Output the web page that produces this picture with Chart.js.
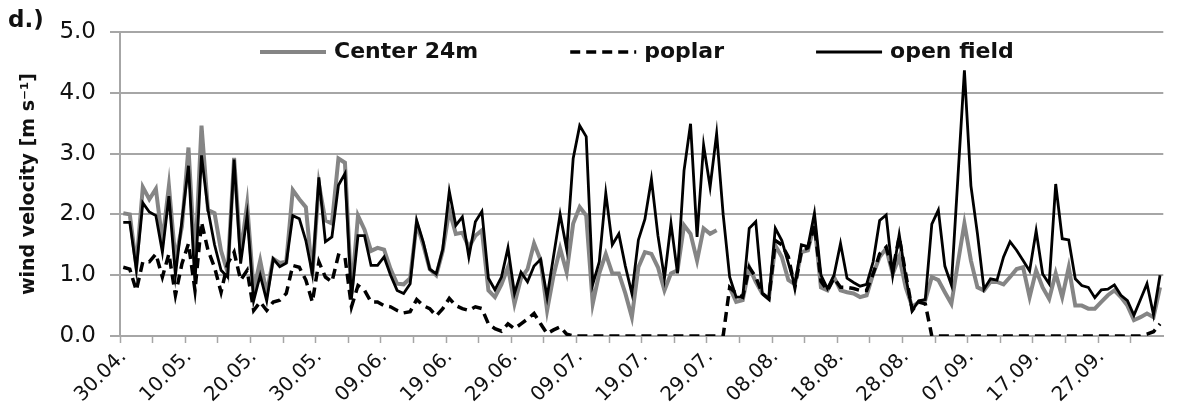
<!DOCTYPE html>
<html>
<head>
<meta charset="utf-8">
<script src="https://cdn.jsdelivr.net/npm/chart.js@4.4.1/dist/chart.umd.min.js"></script>
<style>
  html, body { margin: 0; padding: 0; background: #fff; }
  #wrap { position: relative; width: 1179px; height: 414px; }
  #panel { position: absolute; left: 8px; top: 6px; font: bold 23px "DejaVu Sans", sans-serif; color: #111; }
</style>
</head>
<body>
<div id="wrap">
  <canvas id="chart" width="1179" height="414"></canvas>
  <div id="panel">d.)</div>
</div>
<script>
// labels shown under the x axis, one every 10 days
var tickLabels = ['30.04.', '10.05.', '20.05.', '30.05.', '09.06.', '19.06.', '29.06.', '09.07.',
                  '19.07.', '29.07.', '08.08.', '18.08.', '28.08.', '07.09.', '17.09.', '27.09.'];

var seriesNames = ['Center 24m', 'poplar', 'open field'];

// daily mean wind velocity, 30.04. - 06.10. (m/s)
var center24 = [
  2.02, 2.0, 1.15, 2.45, 2.25, 2.42, 1.55, 2.47, 1.25, 1.8,
  3.1, 1.2, 3.46, 2.07, 2.02, 1.4, 1.05, 2.93, 1.35, 2.17,
  0.75, 1.24, 0.7, 1.27, 1.2, 1.22, 2.4, 2.25, 2.12, 1.0,
  2.5, 1.9, 1.85, 2.92, 2.85, 0.7, 1.98, 1.75, 1.4, 1.45,
  1.42, 1.1, 0.86, 0.85, 0.95, 1.85, 1.5, 1.1, 1.0, 1.4,
  2.07, 1.68, 1.7, 1.46, 1.65, 1.74, 0.75, 0.64, 0.85, 1.13,
  0.53, 0.95, 1.1, 1.52, 1.25, 0.42, 1.0, 1.44, 1.05, 1.85,
  2.12, 1.98, 0.53, 1.03, 1.35, 1.03, 1.03, 0.7, 0.31, 1.13,
  1.38, 1.35, 1.13, 0.75, 1.03, 1.08, 1.82, 1.68, 1.24, 1.77,
  1.68, 1.74, null, 0.8, 0.56, 0.59, 1.13, 0.89, 0.7, 0.61,
  1.49, 1.3, 0.92, 0.85, 1.38, 1.41, 1.85, 0.8, 0.75, 0.97,
  0.75, 0.72, 0.7, 0.64, 0.67, 1.02, 1.3, 1.44, 1.02, 1.3,
  0.8, 0.48, 0.56, 0.59, 0.97, 0.92, 0.72, 0.53, 1.2, 1.85,
  1.24, 0.8, 0.75, 0.89, 0.89, 0.85, 0.97, 1.1, 1.13, 0.64,
  1.08, 0.8, 0.61, 1.03, 0.64, 1.13, 0.5, 0.5, 0.45, 0.45,
  0.56, 0.67, 0.75, 0.64, 0.5, 0.26, 0.31, 0.37, 0.31, 0.8
];

var poplar = [
  1.13, 1.1, 0.75, 1.22, 1.22, 1.35, 0.97, 1.35, 0.67, 1.19,
  1.52, 0.75, 1.87, 1.41, 1.13, 0.72, 1.19, 1.38, 0.92, 1.08,
  0.42, 0.56, 0.42, 0.56, 0.59, 0.7, 1.16, 1.13, 0.92, 0.56,
  1.22, 0.97, 0.89, 1.33, 1.3, 0.48, 0.83, 0.75, 0.56, 0.56,
  0.5, 0.48, 0.42, 0.38, 0.4, 0.6, 0.5, 0.45, 0.33, 0.45,
  0.62, 0.5, 0.45, 0.42, 0.48, 0.45, 0.2, 0.12, 0.08, 0.2,
  0.12, 0.2, 0.28, 0.37, 0.2, 0.04, 0.1, 0.15, 0.03, 0,
  0, 0, 0, 0, 0, 0, 0, 0, 0, 0,
  0, 0, 0, 0, 0, 0, 0, 0, 0, 0,
  0, 0, 0, 0.8, 0.7, 0.64, 1.13, 0.97, 0.7, 0.61,
  1.57, 1.5, 1.3, 0.8, 1.4, 1.45, 1.82, 0.9, 0.75, 0.95,
  0.8, 0.8, 0.78, 0.75, 0.75, 1.02, 1.35, 1.46, 1.08, 1.63,
  1.02, 0.42, 0.56, 0.53, 0, 0, 0, 0, 0, 0,
  0, 0, 0, 0, 0, 0, 0, 0, 0, 0,
  0, 0, 0, 0, 0, 0, 0, 0, 0, 0,
  0, 0, 0, 0, 0, 0, 0, 0.03, 0.07, 0.2
];

var openField = [
  1.87, 1.87, 1.1, 2.19, 2.04, 1.98, 1.38, 2.3, 1.0, 1.9,
  2.8, 0.86, 2.97, 2.07, 1.5, 1.08, 0.97, 2.9, 1.19, 1.98,
  0.58, 1.0, 0.58, 1.27, 1.14, 1.2, 1.98, 1.93, 1.57, 1.02,
  2.61, 1.55, 1.63, 2.48, 2.67, 0.62, 1.65, 1.65, 1.16, 1.16,
  1.3, 1.0, 0.75, 0.7, 0.86, 1.9, 1.55, 1.1, 1.02, 1.43,
  2.38, 1.82, 1.96, 1.3, 1.88, 2.05, 0.95, 0.76, 0.97, 1.45,
  0.7, 1.05, 0.89, 1.15, 1.26, 0.64, 1.32, 2.0, 1.43, 2.92,
  3.46, 3.28, 0.85, 1.22, 2.35, 1.5, 1.68, 1.15, 0.7, 1.58,
  1.92, 2.58, 1.65, 0.95, 1.85, 1.03, 2.72, 3.49, 1.63, 3.14,
  2.45, 3.33, 2.0, 0.97, 0.64, 0.64, 1.77, 1.88, 0.7, 0.61,
  1.77, 1.57, 1.2, 0.83, 1.5, 1.47, 2.02, 1.0, 0.78, 1.0,
  1.52, 0.95, 0.88, 0.82, 0.85, 1.22, 1.9, 1.99, 1.0, 1.67,
  0.97, 0.42, 0.58, 0.6, 1.84, 2.07, 1.15, 0.84, 2.6, 4.37,
  2.47, 1.68, 0.77, 0.94, 0.92, 1.3, 1.55, 1.41, 1.24, 1.07,
  1.73, 1.02, 0.86, 2.5, 1.6, 1.58, 0.94, 0.83, 0.8, 0.63,
  0.76, 0.77, 0.84, 0.67, 0.58, 0.34, 0.6, 0.86, 0.35, 1.0
];

// one category per day
var dayLabels = [];
var day = new Date(2013, 3, 30);
for (var i = 0; i < openField.length; i++) {
    var dd = ('0' + day.getDate()).slice(-2);
    var mm = ('0' + (day.getMonth() + 1)).slice(-2);
    dayLabels.push(dd + '.' + mm + '.');
    day.setDate(day.getDate() + 1);
}

var axisGrey = '#a6a6a6';
var textColor = '#111';

/* legend drawn inside the plot area, like the original figure */
var insideLegend = {
    id: 'insideLegend',
    afterDraw: function(chart) {
        var ctx = chart.ctx;
        var area = chart.chartArea;
        var x = area.left + 140;
        var y = area.top + 20;
        ctx.save();
        ctx.font = 'bold 22px "DejaVu Sans"';
        ctx.textBaseline = 'middle';
        ctx.fillStyle = textColor;
        chart.data.datasets.forEach(function(ds) {
            ctx.beginPath();
            ctx.setLineDash(ds.borderDash || []);
            ctx.lineWidth = ds.borderWidth;
            ctx.strokeStyle = ds.borderColor;
            ctx.moveTo(x, y);
            ctx.lineTo(x + 66, y);
            ctx.stroke();
            ctx.setLineDash([]);
            var tx = x + 66 + 8;
            ctx.fillText(ds.label, tx, y);
            x = tx + ctx.measureText(ds.label).width + 92;
        });
        ctx.restore();
    }
};

var chartData = {
    labels: dayLabels,
    datasets: [
        {
            label: seriesNames[0],
            data: center24,
            borderColor: '#858585',
            borderWidth: 4,
            order: 3
        },
        {
            label: seriesNames[1],
            data: poplar,
            borderColor: '#000',
            borderWidth: 3.5,
            borderDash: [10, 6],
            order: 2
        },
        {
            label: seriesNames[2],
            data: openField,
            borderColor: '#000',
            borderWidth: 2.8,
            order: 1
        }
    ]
};

var chartConfig = {
    type: 'line',
    data: chartData,
    plugins: [insideLegend],
    options: {
        responsive: false,
        animation: false,
        devicePixelRatio: 1,
        layout: { padding: { top: 32, right: 0, bottom: 0, left: 0 } },
        elements: {
            point: { radius: 0 },
            line: { tension: 0, fill: false }
        },
        plugins: {
            legend: { display: false },
            tooltip: { enabled: false }
        },
        scales: {
            x: {
                type: 'category',
                offset: true,
                border: { display: true, color: axisGrey, width: 2 },
                grid: {
                    offset: true,
                    drawOnChartArea: false,
                    drawTicks: true,
                    tickLength: 7,
                    tickWidth: 1.5,
                    // tick mark every 5 days
                    tickColor: function(c) {
                        return c.index % 5 === 0 ? axisGrey : 'rgba(0,0,0,0)';
                    }
                },
                ticks: {
                    autoSkip: false,
                    minRotation: 45,
                    maxRotation: 45,
                    padding: 2,
                    color: textColor,
                    font: { family: 'DejaVu Sans', size: 20 },
                    callback: function(value, index) {
                        return index % 10 === 0 ? tickLabels[index / 10] : '';
                    }
                },
                afterFit: function(scale) { scale.height = 78; }
            },
            y: {
                min: 0,
                max: 5,
                border: { display: true, color: axisGrey, width: 2 },
                grid: { color: axisGrey, lineWidth: 2, tickLength: 10 },
                ticks: {
                    stepSize: 1,
                    padding: 14,
                    color: textColor,
                    font: { family: 'DejaVu Sans', size: 23 },
                    callback: function(v) { return v.toFixed(1); }
                },
                title: {
                    display: true,
                    text: 'wind velocity [m s\u207B\u00B9]',
                    color: textColor,
                    font: { family: 'DejaVu Sans', size: 19, weight: 'bold' },
                    padding: { top: 18, bottom: 0 }
                },
                afterFit: function(scale) { scale.width = 120; }
            }
        }
    }
};

new Chart(document.getElementById('chart'), chartConfig);
</script>
</body>
</html>
